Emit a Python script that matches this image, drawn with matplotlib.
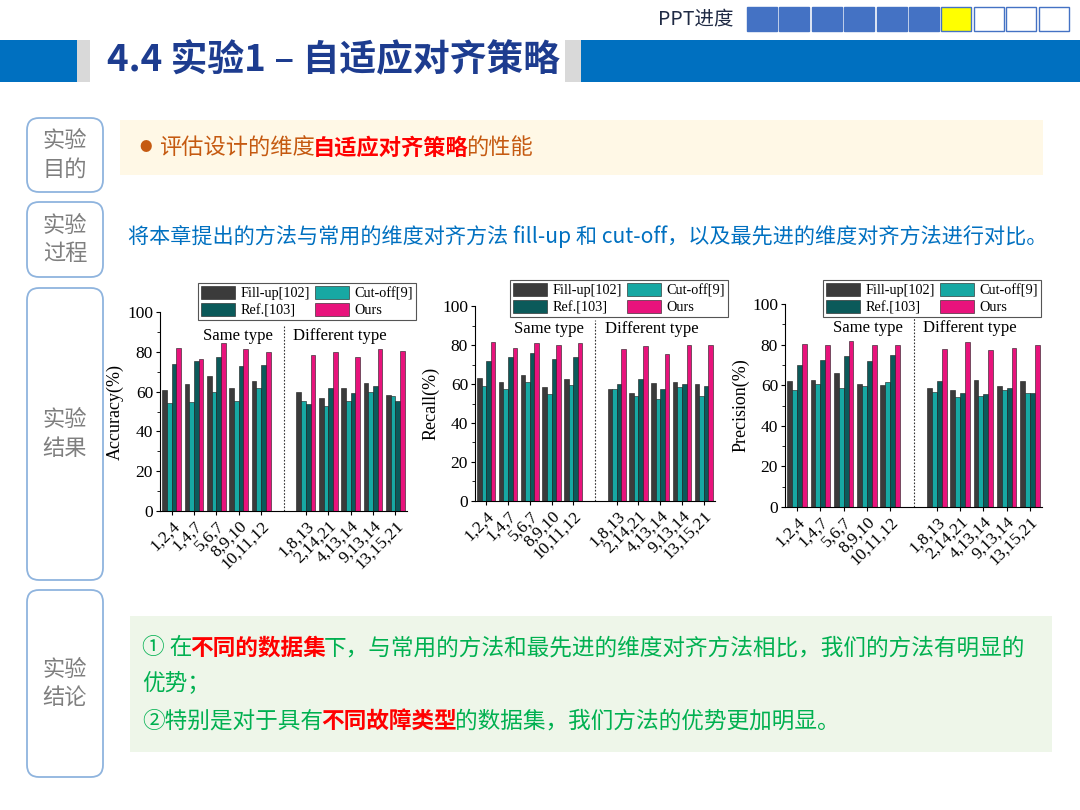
import matplotlib
matplotlib.use('Agg')
import matplotlib.pyplot as plt
from matplotlib.patches import Rectangle, FancyBboxPatch
from matplotlib.ticker import MultipleLocator

plt.rcParams['font.family'] = ['Noto Sans CJK SC', 'DejaVu Sans']

W, H = 1080, 810

# ---- data ----
groups = ['1,2,4', '1,4,7', '5,6,7', '8,9,10', '10,11,12',
          '1,8,13', '2,14,21', '4,13,14', '9,13,14', '13,15,21']
methods = ['Fill-up[102]', 'Cut-off[9]', 'Ref.[103]', 'Ours']
colors = ['#3b3b3b', '#17a8a3', '#0b5a5a', '#e8137c']

acc_fill = [61, 64, 68, 62, 65.5, 60, 57, 62, 64.5, 58.5]
acc_cut = [54.5, 55, 60, 55.5, 62, 55.5, 53, 55.5, 60, 58]
acc_ref = [74, 75.5, 77.5, 73, 73.5, 54, 62, 59.5, 63, 55.5]
acc_ours = [82, 76.5, 84.5, 81.5, 80, 78.5, 80, 77.5, 81.5, 80.5]

rec_fill = [63, 61, 64.5, 58.5, 62.5, 57.5, 55.5, 60.5, 61, 60]
rec_cut = [59, 57.5, 61, 55, 59.5, 57.5, 54, 52.5, 58.5, 54]
rec_ref = [72, 74, 76, 73, 74, 60, 62.5, 57.5, 60, 59]
rec_ours = [81.5, 78.5, 81, 80, 81, 78, 79.5, 75.5, 80, 80]

pre_fill = [62, 62.5, 66, 60.5, 60, 58.5, 57.5, 62.5, 59.5, 62]
pre_cut = [57.5, 60.5, 58.5, 59.5, 61.5, 56.5, 54, 54.5, 57.5, 56]
pre_ref = [70, 72.5, 74.5, 72, 75, 62, 56, 55.5, 58.5, 56]
pre_ours = [80.5, 80, 82, 80, 80, 78, 81.5, 77.5, 78.5, 80]

charts = [
    ('Accuracy(%)', [acc_fill, acc_cut, acc_ref, acc_ours], (160, 312, 407, 511), (198, 283)),
    ('Recall(%)', [rec_fill, rec_cut, rec_ref, rec_ours], (475, 306, 715, 501), (510, 280)),
    ('Precision(%)', [pre_fill, pre_cut, pre_ref, pre_ours], (785, 304, 1042, 507), (823, 280)),
]


def fig_box(l, t, r, b):
    return [l / W, 1 - b / H, (r - l) / W, (b - t) / H]


def rich(ax, x, y, parts, size):
    # draw text pieces one after another on the same line
    prev = None
    for s, color, bold in parts:
        kw = dict(fontsize=size, color=color, fontweight='bold' if bold else 'normal')
        if prev is None:
            prev = ax.text(x, y, s, ha='left', va='center', **kw)
        else:
            prev = ax.annotate(s, xy=(1, 0), xycoords=prev, xytext=(-1.5, 0),
                               textcoords='offset points', ha='left', va='bottom', **kw)


fig = plt.figure(figsize=(W / 100, H / 100), dpi=100)
bg = fig.add_axes([0, 0, 1, 1])
bg.set_xlim(0, W)
bg.set_ylim(H, 0)
bg.axis('off')

# ---- header ----
bg.text(733, 19, 'PPT进度', ha='right', va='center', fontsize=14, color='#1f2a44')
for i in range(10):
    fc = '#4472c4' if i < 6 else ('#ffff00' if i == 6 else 'white')
    bg.add_patch(Rectangle((747 + i * 32.4, 7), 30, 24, fc=fc, ec='#4472c4', lw=1))

bg.add_patch(Rectangle((0, 40), 77, 42, fc='#0070c0', lw=0))
bg.add_patch(Rectangle((77, 40), 13, 42, fc='#d9d9d9', lw=0))
bg.add_patch(Rectangle((565, 40), 16, 42, fc='#d9d9d9', lw=0))
bg.add_patch(Rectangle((581, 40), W - 581, 42, fc='#0070c0', lw=0))
bg.text(107, 61, '4.4 实验1 – 自适应对齐策略', ha='left', va='center',
        fontsize=26.5, fontweight='bold', color='#1d3c8f')

# ---- left labels ----
label_boxes = [('实验\n目的', 118, 192), ('实验\n过程', 202, 277),
               ('实验\n结果', 288, 580), ('实验\n结论', 590, 777)]
for txt, t, b in label_boxes:
    bg.add_patch(FancyBboxPatch((27, t), 76, b - t, boxstyle='round,pad=0,rounding_size=12',
                                fc='white', ec='#8fb4de', lw=1.3))
    bg.text(65, (t + b) / 2, txt, ha='center', va='center', fontsize=16,
            color='#7f7f7f', linespacing=1.3)

# ---- purpose ----
bg.add_patch(Rectangle((120, 120), 923, 55, fc='#fff8e6', lw=0))
bg.text(146, 148, '●', ha='center', va='center', fontsize=9, color='#c55a11')
rich(bg, 159, 148, [('评估设计的维度', '#c55a11', False),
                    ('自适应对齐策略', '#ff0000', True),
                    ('的性能', '#c55a11', False)], 16)

# ---- process ----
bg.text(128, 237, '将本章提出的方法与常用的维度对齐方法 fill-up 和 cut-off，以及最先进的维度对齐方法进行对比。',
        ha='left', va='center', fontsize=15.2, color='#0070c0')

# ---- conclusion ----
bg.add_patch(Rectangle((130, 616), 922, 136, fc='#eef6e9', lw=0))
green = '#00b050'
rich(bg, 142, 648, [('① 在', green, False), ('不同的数据集', '#ff0000', True),
                    ('下，与常用的方法和最先进的维度对齐方法相比，我们的方法有明显的', green, False)], 16.3)
bg.text(142, 683, '优势；', ha='left', va='center', fontsize=16.3, color=green)
rich(bg, 142, 721, [('②特别是对于具有', green, False), ('不同故障类型', '#ff0000', True),
                    ('的数据集，我们方法的优势更加明显。', green, False)], 16.3)

# ---- bar charts ----
serif = ['Liberation Serif', 'DejaVu Serif']
xpos = list(range(5)) + list(range(6, 11))
bw = 0.21
for ylabel, series, box, leg_xy in charts:
    ax = fig.add_axes(fig_box(*box))
    ax.set_facecolor('none')
    handles = []
    for k, vals in enumerate(series):
        h = ax.bar([x + (k - 1.5) * bw for x in xpos], vals, width=bw, color=colors[k],
                   edgecolor='#1a1a1a', linewidth=0.4, label=methods[k])
        handles.append(h)
    ax.set_xlim(-0.52, 10.52)
    ax.set_ylim(0, 100)
    ax.spines['top'].set_visible(False)
    ax.spines['right'].set_visible(False)
    ax.yaxis.set_major_locator(MultipleLocator(20))
    ax.yaxis.set_minor_locator(MultipleLocator(10))
    ax.set_xticks(xpos)
    ax.set_xticklabels(groups, rotation=45, ha='right', va='top', rotation_mode='anchor',
                       family=serif, fontsize=12.5)
    for lab in ax.get_yticklabels():
        lab.set_family(serif)
        lab.set_fontsize(12.5)
    ax.tick_params(axis='both', direction='out', length=3, width=0.8, pad=2)
    ax.tick_params(axis='y', which='minor', length=2, width=0.6)
    ax.set_ylabel(ylabel, family=serif, fontsize=13, labelpad=2)
    ax.axvline(5, ymin=0, ymax=0.93, color='#333333', ls=(0, (1.5, 1.5)), lw=0.8)
    ax.annotate('Same type', xy=(5, 88), xytext=(-8, 0), textcoords='offset points',
                ha='right', va='center', family=serif, fontsize=12)
    ax.annotate('Different type', xy=(5, 88), xytext=(7, 0), textcoords='offset points',
                ha='left', va='center', family=serif, fontsize=12)
    order = [handles[0], handles[2], handles[1], handles[3]]
    leg = ax.legend(order, [h.get_label() for h in order], ncol=2, loc='upper left',
                    bbox_to_anchor=(leg_xy[0] / W, 1 - leg_xy[1] / H),
                    bbox_transform=fig.transFigure, prop={'family': serif, 'size': 10.3},
                    frameon=True, fancybox=False, edgecolor='#555555', framealpha=1,
                    handlelength=2.4, handleheight=1.0, handletextpad=0.4,
                    columnspacing=0.3, labelspacing=0.2, borderpad=0.2, borderaxespad=0)
    leg.get_frame().set_linewidth(0.8)

fig.savefig('out.png', dpi=100)
